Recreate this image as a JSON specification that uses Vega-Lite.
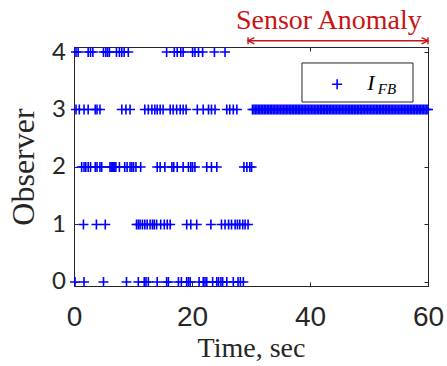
{
"$schema": "https://vega.github.io/schema/vega-lite/v6.json",
"width": 354, "height": 239,
"autosize": "none",
"padding": {"left": 74, "top": 47, "right": 19, "bottom": 80},
"background": "white",
"config": {"view": {"stroke": "#262626", "strokeWidth": 1}, "axis": {"grid": false}},
"datasets": {
"obs": [
{"t":0.34,"o":4},{"t":0.7,"o":4},{"t":2.4,"o":4},{"t":2.8,"o":4},{"t":3.2,"o":4},{"t":5.0,"o":4},{"t":5.4,"o":4},{"t":5.7,"o":4},{"t":6.0,"o":4},{"t":7.2,"o":4},{"t":7.7,"o":4},{"t":8.1,"o":4},{"t":8.5,"o":4},{"t":9.2,"o":4},{"t":15.7,"o":4},{"t":17.0,"o":4},{"t":17.5,"o":4},{"t":18.1,"o":4},{"t":18.5,"o":4},{"t":20.1,"o":4},{"t":20.5,"o":4},{"t":21.1,"o":4},{"t":21.8,"o":4},{"t":23.8,"o":4},{"t":25.6,"o":4},
{"t":0.34,"o":3},{"t":0.9,"o":3},{"t":1.7,"o":3},{"t":2.4,"o":3},{"t":3.6,"o":3},{"t":3.9,"o":3},{"t":4.4,"o":3},{"t":8.1,"o":3},{"t":8.8,"o":3},{"t":9.5,"o":3},{"t":12.0,"o":3},{"t":12.6,"o":3},{"t":13.2,"o":3},{"t":13.7,"o":3},{"t":14.1,"o":3},{"t":14.6,"o":3},{"t":15.1,"o":3},{"t":16.3,"o":3},{"t":16.8,"o":3},{"t":17.4,"o":3},{"t":18.0,"o":3},{"t":18.5,"o":3},{"t":19.0,"o":3},{"t":20.9,"o":3},{"t":21.9,"o":3},{"t":22.8,"o":3},{"t":23.3,"o":3},{"t":23.9,"o":3},{"t":25.9,"o":3},{"t":26.4,"o":3},{"t":27.0,"o":3},{"t":27.6,"o":3},
{"t":30.25,"o":3},{"t":30.5,"o":3},{"t":30.75,"o":3},{"t":31,"o":3},{"t":31.25,"o":3},{"t":31.5,"o":3},{"t":31.75,"o":3},{"t":32,"o":3},{"t":32.25,"o":3},{"t":32.5,"o":3},{"t":32.75,"o":3},{"t":33,"o":3},{"t":33.25,"o":3},{"t":33.5,"o":3},{"t":33.75,"o":3},{"t":34,"o":3},{"t":34.25,"o":3},{"t":34.5,"o":3},{"t":34.75,"o":3},{"t":35,"o":3},{"t":35.25,"o":3},{"t":35.5,"o":3},{"t":35.75,"o":3},{"t":36,"o":3},{"t":36.25,"o":3},{"t":36.5,"o":3},{"t":36.75,"o":3},{"t":37,"o":3},{"t":37.25,"o":3},{"t":37.5,"o":3},{"t":37.75,"o":3},{"t":38,"o":3},{"t":38.25,"o":3},{"t":38.5,"o":3},{"t":38.75,"o":3},{"t":39,"o":3},{"t":39.25,"o":3},{"t":39.5,"o":3},{"t":39.75,"o":3},{"t":40,"o":3},{"t":40.25,"o":3},{"t":40.5,"o":3},{"t":40.75,"o":3},{"t":41,"o":3},{"t":41.25,"o":3},{"t":41.5,"o":3},{"t":41.75,"o":3},{"t":42,"o":3},{"t":42.25,"o":3},{"t":42.5,"o":3},{"t":42.75,"o":3},{"t":43,"o":3},{"t":43.25,"o":3},{"t":43.5,"o":3},{"t":43.75,"o":3},{"t":44,"o":3},{"t":44.25,"o":3},{"t":44.5,"o":3},{"t":44.75,"o":3},{"t":45,"o":3},{"t":45.25,"o":3},{"t":45.5,"o":3},{"t":45.75,"o":3},{"t":46,"o":3},{"t":46.25,"o":3},{"t":46.5,"o":3},{"t":46.75,"o":3},{"t":47,"o":3},{"t":47.25,"o":3},{"t":47.5,"o":3},{"t":47.75,"o":3},{"t":48,"o":3},{"t":48.25,"o":3},{"t":48.5,"o":3},{"t":48.75,"o":3},{"t":49,"o":3},{"t":49.25,"o":3},{"t":49.5,"o":3},{"t":49.75,"o":3},{"t":50,"o":3},{"t":50.25,"o":3},{"t":50.5,"o":3},{"t":50.75,"o":3},{"t":51,"o":3},{"t":51.25,"o":3},{"t":51.5,"o":3},{"t":51.75,"o":3},{"t":52,"o":3},{"t":52.25,"o":3},{"t":52.5,"o":3},{"t":52.75,"o":3},{"t":53,"o":3},{"t":53.25,"o":3},{"t":53.5,"o":3},{"t":53.75,"o":3},{"t":54,"o":3},{"t":54.25,"o":3},{"t":54.5,"o":3},{"t":54.75,"o":3},{"t":55,"o":3},{"t":55.25,"o":3},{"t":55.5,"o":3},{"t":55.75,"o":3},{"t":56,"o":3},{"t":56.25,"o":3},{"t":56.5,"o":3},{"t":56.75,"o":3},{"t":57,"o":3},{"t":57.25,"o":3},{"t":57.5,"o":3},{"t":57.75,"o":3},{"t":58,"o":3},{"t":58.25,"o":3},{"t":58.5,"o":3},{"t":58.75,"o":3},{"t":59,"o":3},{"t":59.25,"o":3},{"t":59.5,"o":3},{"t":59.75,"o":3},{"t":60,"o":3},
{"t":1.3,"o":2},{"t":1.7,"o":2},{"t":2.0,"o":2},{"t":2.4,"o":2},{"t":2.8,"o":2},{"t":3.6,"o":2},{"t":3.9,"o":2},{"t":4.4,"o":2},{"t":4.7,"o":2},{"t":6.1,"o":2},{"t":6.3,"o":2},{"t":6.5,"o":2},{"t":6.7,"o":2},{"t":6.9,"o":2},{"t":7.1,"o":2},{"t":7.7,"o":2},{"t":8.6,"o":2},{"t":9.0,"o":2},{"t":9.5,"o":2},{"t":9.8,"o":2},{"t":10.1,"o":2},{"t":10.5,"o":2},{"t":11.3,"o":2},{"t":14.1,"o":2},{"t":14.6,"o":2},{"t":15.4,"o":2},{"t":16.6,"o":2},{"t":16.9,"o":2},{"t":17.5,"o":2},{"t":18.5,"o":2},{"t":19.4,"o":2},{"t":19.8,"o":2},{"t":20.1,"o":2},{"t":20.5,"o":2},{"t":22.5,"o":2},{"t":23.3,"o":2},{"t":24.2,"o":2},{"t":28.8,"o":2},{"t":29.3,"o":2},{"t":29.8,"o":2},{"t":30.1,"o":2},
{"t":1.6,"o":1},{"t":3.8,"o":1},{"t":5.3,"o":1},{"t":10.6,"o":1},{"t":10.9,"o":1},{"t":11.2,"o":1},{"t":11.6,"o":1},{"t":12.0,"o":1},{"t":12.4,"o":1},{"t":12.9,"o":1},{"t":13.3,"o":1},{"t":13.6,"o":1},{"t":14.0,"o":1},{"t":14.7,"o":1},{"t":15.3,"o":1},{"t":15.8,"o":1},{"t":16.3,"o":1},{"t":19.1,"o":1},{"t":19.8,"o":1},{"t":20.8,"o":1},{"t":23.2,"o":1},{"t":25.0,"o":1},{"t":25.6,"o":1},{"t":26.2,"o":1},{"t":26.7,"o":1},{"t":27.3,"o":1},{"t":27.7,"o":1},{"t":28.1,"o":1},{"t":28.6,"o":1},{"t":29.0,"o":1},{"t":29.5,"o":1},
{"t":0.17,"o":0},{"t":1.7,"o":0},{"t":5.0,"o":0},{"t":8.9,"o":0},{"t":10.9,"o":0},{"t":11.9,"o":0},{"t":12.2,"o":0},{"t":12.6,"o":0},{"t":14.1,"o":0},{"t":15.7,"o":0},{"t":16.0,"o":0},{"t":17.7,"o":0},{"t":18.2,"o":0},{"t":19.1,"o":0},{"t":19.4,"o":0},{"t":19.7,"o":0},{"t":21.2,"o":0},{"t":21.9,"o":0},{"t":22.2,"o":0},{"t":22.5,"o":0},{"t":23.5,"o":0},{"t":24.2,"o":0},{"t":24.5,"o":0},{"t":24.9,"o":0},{"t":25.2,"o":0},{"t":25.9,"o":0},{"t":27.0,"o":0},{"t":27.8,"o":0},{"t":28.2,"o":0},{"t":28.7,"o":0}
],
"arrow": [{"t": 29.5, "t2": 60, "y": 4.197}],
"anno": [{"t": 43.2, "y": 4.4, "label": "Sensor Anomaly"}],
"legbox": [{"t": 38.64, "t2": 57.46, "y": 3.809, "y2": 3.13}],
"legsym": [{"t": 44.6, "y": 3.438}],
"legI": [{"t": 49.7, "y": 3.339, "label": "I"}],
"legFB": [{"t": 51.5, "y": 3.278, "label": "FB"}]
},
"layer": [
{
"data": {"name": "obs"},
"mark": {"type": "point", "shape": "M-1,0L1,0M0,-1L0,1", "size": 100, "filled": false, "strokeWidth": 1.6, "color": "#0000ff", "opacity": 1},
"encoding": {
"x": {"field": "t", "type": "quantitative", "scale": {"domain": [0, 60], "nice": false, "zero": false},
 "axis": {"orient": "bottom", "values": [0, 20, 40, 60], "title": "Time, sec", "titleFont": "Liberation Serif", "titleFontSize": 28, "titleFontWeight": "normal", "titleColor": "#262626", "titleBaseline": "alphabetic", "titleY": 70, "labelFont": "Liberation Sans", "labelFontSize": 28, "labelColor": "#262626", "labelBaseline": "alphabetic", "labelPadding": 43, "tickSize": -4, "tickColor": "#262626", "domainColor": "#262626", "labelFlush": false, "labelOverlap": false, "labelAngle": 0}},
"y": {"field": "o", "type": "quantitative", "scale": {"domain": [-0.07, 4.087], "nice": false, "zero": false},
 "axis": {"orient": "left", "values": [0, 1, 2, 3, 4], "title": "Observer", "titleFont": "Liberation Serif", "titleFontSize": 32, "titleFontWeight": "normal", "titleColor": "#262626", "titleBaseline": "alphabetic", "titleAlign": "center", "titleAngle": 270, "titleX": -40.5, "titleY": 119.5, "labelFont": "Lato", "labelFontSize": 24, "labelColor": "#262626", "labelPadding": 12.5, "tickSize": -4, "tickColor": "#262626", "domainColor": "#262626", "labelFlush": false, "labelOverlap": false}}
}
},
{
"data": {"name": "legbox"},
"mark": {"type": "rect", "fill": "white", "stroke": "#262626", "strokeWidth": 1},
"encoding": {
"x": {"field": "t", "type": "quantitative", "scale": {"domain": [0, 60], "nice": false, "zero": false},
 "axis": {"orient": "top", "values": [0, 20, 40, 60], "labels": false, "title": null, "tickSize": -4, "tickColor": "#262626", "domainColor": "#262626"}},
"x2": {"field": "t2"},
"y": {"field": "y", "type": "quantitative", "scale": {"domain": [-0.07, 4.087], "nice": false, "zero": false},
 "axis": {"orient": "right", "values": [0, 1, 2, 3, 4], "labels": false, "title": null, "tickSize": -4, "tickColor": "#262626", "domainColor": "#262626"}},
"y2": {"field": "y2"}
}
},
{
"data": {"name": "legsym"},
"mark": {"type": "point", "shape": "M-1,0L1,0M0,-1L0,1", "size": 100, "filled": false, "strokeWidth": 1.6, "color": "#0000ff", "opacity": 1},
"encoding": {
"x": {"field": "t", "type": "quantitative", "axis": null},
"y": {"field": "y", "type": "quantitative", "axis": null}
}
},
{
"data": {"name": "legI"},
"mark": {"type": "text", "font": "Liberation Serif", "fontStyle": "italic", "fontSize": 22, "align": "left", "baseline": "alphabetic", "color": "black"},
"encoding": {
"x": {"field": "t", "type": "quantitative", "axis": null},
"y": {"field": "y", "type": "quantitative", "axis": null},
"text": {"field": "label"}
}
},
{
"data": {"name": "legFB"},
"mark": {"type": "text", "font": "Liberation Serif", "fontStyle": "italic", "fontSize": 15, "align": "left", "baseline": "alphabetic", "color": "black"},
"encoding": {
"x": {"field": "t", "type": "quantitative", "axis": null},
"y": {"field": "y", "type": "quantitative", "axis": null},
"text": {"field": "label"}
}
},
{
"data": {"name": "arrow"},
"mark": {"type": "rule", "color": "#c81414", "strokeWidth": 1.5},
"encoding": {
"x": {"field": "t", "type": "quantitative", "axis": null},
"x2": {"field": "t2"},
"y": {"field": "y", "type": "quantitative", "axis": null}
}
},
{
"data": {"name": "arrow"},
"mark": {"type": "point", "shape": "M0,-1L0,1M1.8,-0.9L0,0L1.8,0.9", "size": 49, "filled": false, "strokeWidth": 1.4, "color": "#c81414", "opacity": 1},
"encoding": {
"x": {"field": "t", "type": "quantitative", "axis": null},
"y": {"field": "y", "type": "quantitative", "axis": null}
}
},
{
"data": {"name": "arrow"},
"mark": {"type": "point", "shape": "M0,-1L0,1M-1.8,-0.9L0,0L-1.8,0.9", "size": 49, "filled": false, "strokeWidth": 1.4, "color": "#c81414", "opacity": 1},
"encoding": {
"x": {"field": "t2", "type": "quantitative", "axis": null},
"y": {"field": "y", "type": "quantitative", "axis": null}
}
},
{
"data": {"name": "anno"},
"mark": {"type": "text", "font": "Liberation Serif", "fontSize": 28, "align": "center", "baseline": "alphabetic", "color": "#c81414"},
"encoding": {
"x": {"field": "t", "type": "quantitative", "axis": null},
"y": {"field": "y", "type": "quantitative", "axis": null},
"text": {"field": "label"}
}
}
],
"resolve": {"axis": {"x": "independent", "y": "independent"}}
}
